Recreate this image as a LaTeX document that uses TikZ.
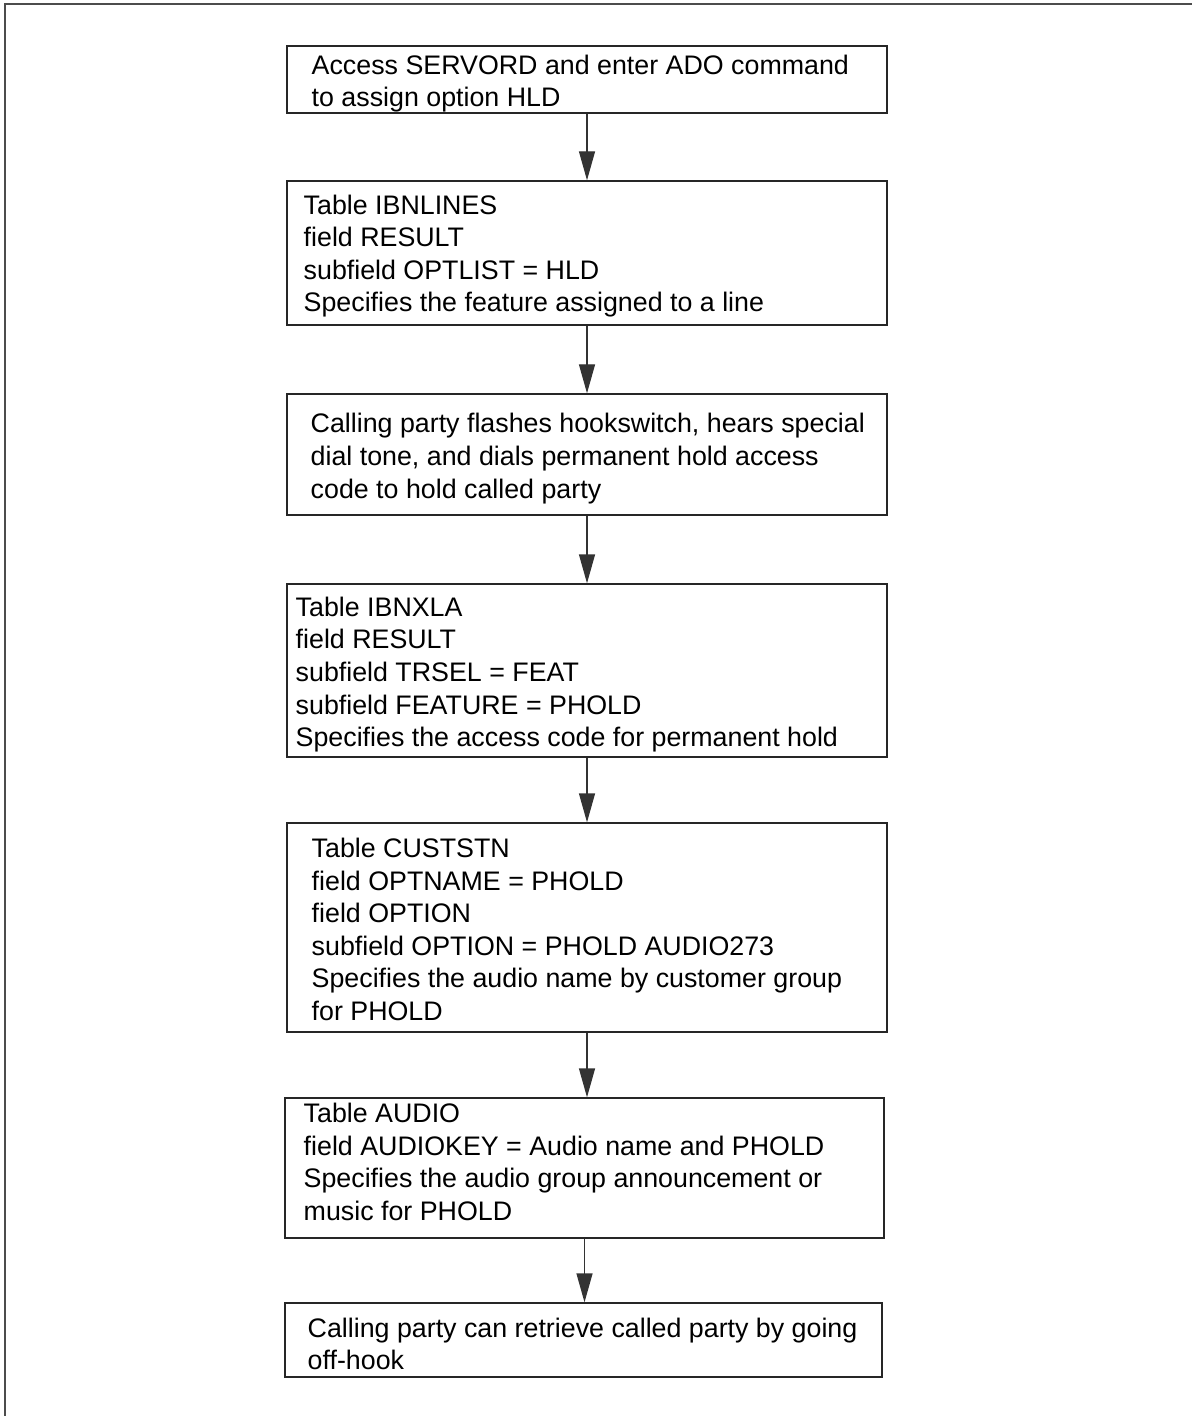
\documentclass[tikz,border=0pt]{standalone}
\usepackage{fontspec}
\setmainfont{Liberation Sans}
\usetikzlibrary{arrows.meta}
\begin{document}
\begin{tikzpicture}[x=0.5pt,y=-0.5pt,
  stepbox/.style={draw=black!85, line width=0.7pt, inner sep=0pt},
  steptext/.style={anchor=west, align=left, inner sep=0pt,
    font=\fontsize{13.4pt}{16.3pt}\selectfont},
  flow/.style={draw=black!80, line width=0.7pt,
    -{Triangle[length=14.5pt,width=8pt]}},
  pageframe/.style={draw=black!70, line width=1.1pt}]
\useasboundingbox (0,0) rectangle (1192,1416);
% page frame (top and left edges)
\draw[pageframe] (5,1416) -- (5,4) -- (1192,4);

% step boxes
\node[stepbox, minimum width=300pt, minimum height=33.5pt] (b1) at (587,79.5) {};
\node[steptext] (t1) at ([xshift=12.5pt,yshift=-2pt]b1.west)
  {Access SERVORD and enter ADO command\\to assign option HLD};

\node[stepbox, minimum width=300pt, minimum height=72pt] (b2) at (587,253) {};
\node[steptext] (t2) at ([xshift=8.5pt,yshift=-1.5pt]b2.west)
  {Table IBNLINES\\field RESULT\\subfield OPTLIST = HLD\\Specifies the feature assigned to a line};

\node[stepbox, minimum width=300pt, minimum height=60.5pt] (b3) at (587,454.5) {};
\node[steptext] (t3) at ([xshift=12pt,yshift=-2pt]b3.west)
  {Calling party flashes hookswitch, hears special\\dial tone, and dials permanent hold access\\code to hold called party};

\node[stepbox, minimum width=300pt, minimum height=86.5pt] (b4) at (587,670.5) {};
\node[steptext] (t4) at ([xshift=4.5pt,yshift=-2pt]b4.west)
  {Table IBNXLA\\field RESULT\\subfield TRSEL = FEAT\\subfield FEATURE = PHOLD\\Specifies the access code for permanent hold};

\node[stepbox, minimum width=300pt, minimum height=104.5pt] (b5) at (587,927.5) {};
\node[steptext] (t5) at ([xshift=12.5pt,yshift=-1pt]b5.west)
  {Table CUSTSTN\\field OPTNAME = PHOLD\\field OPTION\\subfield OPTION = PHOLD AUDIO273\\Specifies the audio name by customer group\\for PHOLD};

\node[stepbox, minimum width=299.5pt, minimum height=70pt] (b6) at (584.5,1168) {};
\node[steptext] (t6) at ([xshift=9.5pt,yshift=3pt]b6.west)
  {Table AUDIO\\field AUDIOKEY = Audio name and PHOLD\\Specifies the audio group announcement or\\music for PHOLD};

\node[stepbox, minimum width=298.5pt, minimum height=37pt] (b7) at (583.5,1340) {};
\node[steptext] (t7) at ([xshift=11.5pt,yshift=-2pt]b7.west)
  {Calling party can retrieve called party by going\\off-hook};

% connectors
\draw[flow] (b1.south) -- (b1.south |- b2.north);
\draw[flow] (b2.south) -- (b2.south |- b3.north);
\draw[flow] (b3.south) -- (b3.south |- b4.north);
\draw[flow] (b4.south) -- (b4.south |- b5.north);
\draw[flow] (b5.south) -- (b5.south |- b6.north);
\draw[flow] (b6.south) -- (b6.south |- b7.north);
\end{tikzpicture}
\end{document}
